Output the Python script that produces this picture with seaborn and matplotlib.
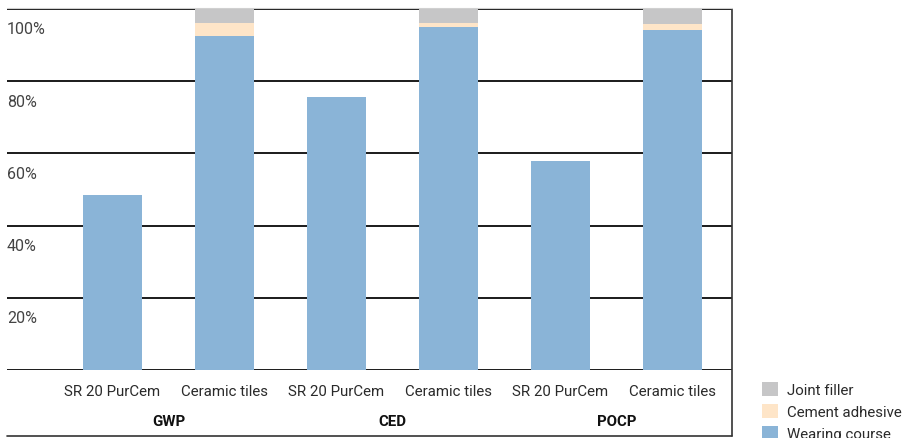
import matplotlib
matplotlib.use('Agg')
import matplotlib.pyplot as plt
import matplotlib.transforms as mtrans
import seaborn as sns
import pandas as pd

sns.set_theme(style='white')
plt.rcParams['font.family'] = ['Roboto', 'DejaVu Sans']

# Data (shares in %)
groups = ['GWP', 'CED', 'POCP']
products = ['SR 20 PurCem', 'Ceramic tiles']
wearing = [48.5, 92.5, 75.6, 95.0, 57.9, 94.2]
cement = [0.0, 3.6, 0.0, 1.1, 0.0, 1.7]
joint = [0.0, 3.9, 0.0, 3.9, 0.0, 4.1]
ytick_vals = [20, 40, 60, 80, 100]
ytick_labels = ['20%', '40%', '60%', '80%', '100%']

bars = [f'{g}|{p}' for g in groups for p in products]
df = pd.DataFrame({'bar': bars, 'wearing': wearing, 'cement': cement, 'joint': joint})
df['lvl2'] = df['wearing'] + df['cement']
df['lvl3'] = df['lvl2'] + df['joint']

c_wear = '#8ab4d7'
c_cem = '#fee5c8'
c_joint = '#c6c6c7'

fig = plt.figure(figsize=(9.04, 4.39), dpi=100)
ax = fig.add_axes([7 / 904, 68 / 439, 725 / 904, 361 / 439])

# stacked bars: draw cumulative totals back to front
bar_kw = dict(order=bars, width=0.53, saturation=1, ax=ax, linewidth=0, edgecolor='none')
sns.barplot(data=df, x='bar', y='lvl3', color=c_joint, label='Joint filler', **bar_kw)
sns.barplot(data=df, x='bar', y='lvl2', color=c_cem, label='Cement adhesive', **bar_kw)
sns.barplot(data=df, x='bar', y='wearing', color=c_wear, label='Wearing course', **bar_kw)

ax.set_xlim(-0.94, 5.53)
ax.set_ylim(0, 100)
ax.set_xlabel('')
ax.set_ylabel('')
for s in ax.spines.values():
    s.set_visible(False)

# horizontal gridlines incl. bottom and top
for v in [0] + ytick_vals:
    ax.axhline(v, color='#1a1a1a', lw=1.4, zorder=0.5)

# y labels sit inside, just below each line
ax.set_yticks(ytick_vals)
ax.set_yticklabels(ytick_labels)
ax.tick_params(axis='y', length=0, pad=0, labelsize=11.5, labelcolor='#444444')
off = mtrans.ScaledTranslation(0, -0.185, fig.dpi_scale_trans)
for lbl in ax.get_yticklabels():
    lbl.set_horizontalalignment('left')
    lbl.set_transform(ax.get_yaxis_transform() + off)
    lbl.set_x(0.0)

# x labels: product names and bold group names
ax.set_xticks(range(len(bars)))
ax.set_xticklabels([b.split('|')[1] for b in bars])
ax.tick_params(axis='x', length=0, pad=10, labelsize=10.8, labelcolor='#2a2a2a')
for i, g in enumerate(groups):
    ax.text(2 * i + 0.5, -50.8 / 361 * 100, g, ha='center', va='center',
            fontsize=10.8, fontweight='bold', color='#111111',
            transform=ax.transData, clip_on=False)

# frame lines outside the axes
fig.add_artist(plt.Line2D([7 / 904, 732 / 904], [2 / 439, 2 / 439], color='#333333', lw=1.2))
fig.add_artist(plt.Line2D([732 / 904, 732 / 904], [2 / 439, 429 / 439], color='#333333', lw=1.2))
fig.add_artist(plt.Line2D([7 / 904, 732 / 904], [430 / 439, 430 / 439], color='#d0d0d0', lw=0.8))

# legend
handles, labels = ax.get_legend_handles_labels()
ax.legend(handles, labels, loc='upper left', bbox_to_anchor=(762 / 904, 56 / 439),
          bbox_transform=fig.transFigure, frameon=False, fontsize=10.8,
          handlelength=1.05, handleheight=1.05, handletextpad=0.65, labelspacing=0.45,
          labelcolor='#2a2a2a', borderaxespad=0, borderpad=0)

fig.savefig('out.png', dpi=100)
